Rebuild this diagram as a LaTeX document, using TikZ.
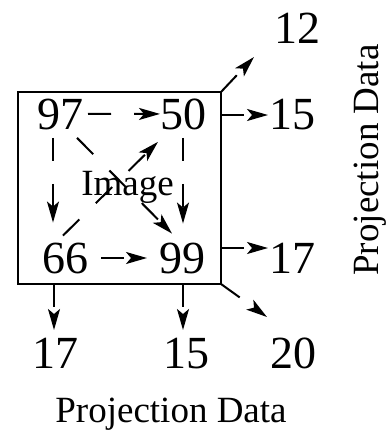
\documentclass[tikz,border=0pt]{standalone}
\usepackage{fontspec}
\setmainfont{Liberation Serif}
\usetikzlibrary{arrows.meta}
\begin{document}
\begin{tikzpicture}[x=1bp,y=-1bp,
  num/.style={font=\fontsize{46bp}{50bp}\selectfont, inner sep=0pt, outer sep=0pt, anchor=base},
  lbl/.style={font=\fontsize{37bp}{40bp}\selectfont, inner sep=0pt, outer sep=0pt, anchor=base},
  arr/.style={line width=2bp, dash pattern=on 23bp off 23bp, -{Stealth[length=21bp,width=12bp,inset=5bp]}},
  frame/.style={draw, line width=2.5bp, minimum width=203bp, minimum height=192bp, inner sep=0pt, outer sep=0pt}]
\useasboundingbox (0,0) rectangle (386,430);
% image frame
\node[frame] (box) at (119.5,188) {};
% pixel values
\node[num] (n97) at (60,129) {97};
\node[num] (n50) at (183,129) {50};
\node[num] (n66) at (65,273) {66};
\node[num] (n99) at (182,273) {99};
\node[lbl] (img) at (127.5,195) {Image};
% projections
\node[num] (r12) at (297,43) {12};
\node[num] (r15) at (292.5,129) {15};
\node[num] (r17) at (292,273) {17};
\node[num] (b17) at (55,368) {17};
\node[num] (b15) at (186,368) {15};
\node[num] (b20) at (293,368) {20};
\node[lbl] (pdb) at (171,422) {Projection Data};
\node[lbl, rotate=90] (pdr) at (378,160) {Projection Data};
% inner connectors
\draw[arr, shorten <=5bp] (n97.east) -- (n50.west);
\draw[arr] ([shift={(-7,8.4)}]n97.south) -- ([shift={(-12,-20)}]n66.north);
\draw[arr] ([shift={(0,8.4)}]n50.south) -- ([shift={(1,-19)}]n99.north);
\draw[arr] ([shift={(-6,8.4)}]n97.south east) -- ([shift={(13,-9)}]n99.north west);
\draw[arr] ([shift={(-2,-7)}]n66.north) -- ([shift={(-2,12.4)}]n50.south west);
\draw[arr, shorten <=13bp, shorten >=12bp] (n66.east) -- (n99.west);
% outer connectors
\coordinate (t12) at (254,57);
\coordinate (t15r) at (268,115);
\coordinate (t17r) at (268,248);
\coordinate (t17b) at (54,330);
\coordinate (t15b) at (183,330);
\coordinate (t20) at (267,317);
\draw[arr] (box.north east) -- (t12);
\draw[arr] (t15r -| box.east) -- (t15r);
\draw[arr] (t17r -| box.east) -- (t17r);
\draw[arr] (t17b |- box.south) -- (t17b);
\draw[arr] (t15b |- box.south) -- (t15b);
\draw[arr] (box.south east) -- (t20);
\end{tikzpicture}
\end{document}
